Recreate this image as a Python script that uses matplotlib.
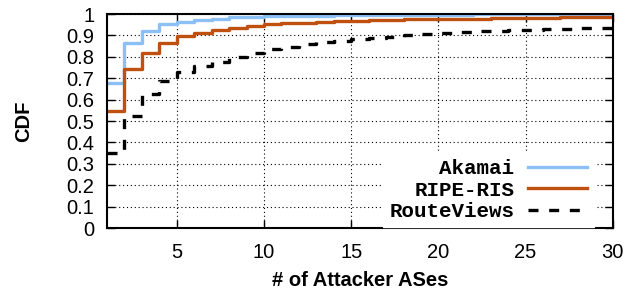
import numpy as np
import matplotlib
matplotlib.use("Agg")
import matplotlib.pyplot as plt

# number of attacker ASes (x) and CDF values per dataset
attackers = list(range(1, 31))
akamai = [0.680, 0.863, 0.922, 0.953, 0.963, 0.972, 0.979, 0.984, 0.987, 0.990,
          0.991, 0.992, 0.993, 0.994, 0.995, 0.995, 0.996, 0.996, 0.997, 0.997,
          0.997, 0.998, 0.998, 0.998, 0.998, 0.999, 0.999, 0.999, 0.999, 1.000]
ripe_ris = [0.548, 0.741, 0.816, 0.863, 0.897, 0.913, 0.925, 0.935, 0.944, 0.952,
            0.956, 0.960, 0.964, 0.967, 0.969, 0.971, 0.973, 0.975, 0.976, 0.977,
            0.978, 0.979, 0.980, 0.981, 0.982, 0.983, 0.984, 0.985, 0.986, 0.987]
routeviews = [0.352, 0.523, 0.625, 0.687, 0.730, 0.755, 0.775, 0.800, 0.820, 0.835,
              0.848, 0.860, 0.868, 0.875, 0.882, 0.888, 0.894, 0.900, 0.906, 0.912,
              0.916, 0.919, 0.922, 0.924, 0.927, 0.929, 0.931, 0.933, 0.936, 0.940]

x_ticks = [5, 10, 15, 20, 25, 30]
y_ticks = [0, 0.1, 0.2, 0.3, 0.4, 0.5, 0.6, 0.7, 0.8, 0.9, 1]
y_labels = ['0', '0.1', '0.2', '0.3', '0.4', '0.5', '0.6', '0.7', '0.8', '0.9', '1']

plt.rcParams['font.family'] = ['Liberation Sans', 'DejaVu Sans']

fig = plt.figure(figsize=(6.37, 2.92), dpi=100)
ax = fig.add_axes([0.168, 0.219, 0.794, 0.733])

ax.step(attackers, akamai, where='post', color='#8cc0f5', linewidth=2.4, label='Akamai')
ax.step(attackers, ripe_ris, where='post', color='#c05010', linewidth=2.4, label='RIPE-RIS')
ax.step(attackers, routeviews, where='post', color='black', linewidth=2.4,
        dashes=(3, 3.2), label='RouteViews')

ax.set_xlim(1, 30)
ax.set_ylim(0, 1)
ax.set_xticks(x_ticks)
ax.set_yticks(y_ticks)
ax.set_yticklabels(y_labels)
ax.tick_params(direction='in', length=6, width=1, top=True, right=True,
               labelsize=14.5)
ax.tick_params(axis='x', pad=11)
ax.tick_params(axis='y', pad=9)
ax.grid(True, color='black', linestyle=(0, (1, 2.5)), linewidth=0.8)
for s in ax.spines.values():
    s.set_linewidth(1.5)

ax.set_xlabel('# of Attacker ASes', fontsize=14.5, fontweight='bold', labelpad=6.5)
ax.set_ylabel('CDF', fontsize=14.5, fontweight='bold', labelpad=24)

leg = ax.legend(loc='lower right', bbox_to_anchor=(0.962, 0.003), markerfirst=False,
                prop={'family': 'Liberation Mono', 'weight': 'bold', 'size': 15},
                frameon=True, fancybox=False, framealpha=1, edgecolor='white',
                handlelength=2.85, handletextpad=0.65, labelspacing=0.12,
                borderpad=0.3, borderaxespad=0)

fig.savefig('out.png', dpi=100)
